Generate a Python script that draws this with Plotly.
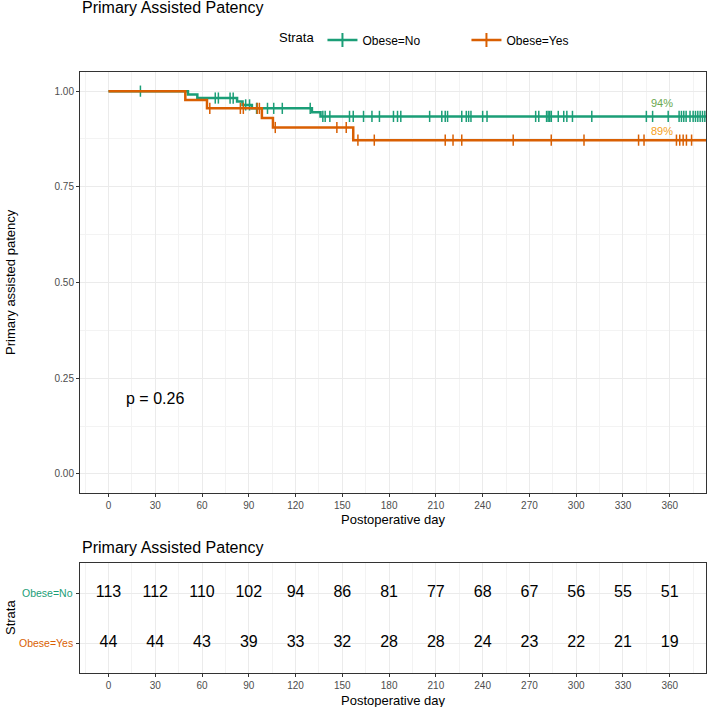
import plotly.graph_objects as go
import numpy as np

# ---------------- data ----------------
no_times = [0, 51, 57, 82.5, 86, 92, 130.5, 136, 400]
no_surv = [1.0, 0.991, 0.982, 0.973, 0.964, 0.955, 0.945, 0.934, 0.934]
no_censor = [20.5, 68.5, 70.5, 78, 80, 88, 90.5, 95, 102, 106, 111.5, 129.4,
             137.5, 139, 142, 154.6, 157, 163.6, 169, 173.8, 182.8, 185.4, 187.5,
             206, 213.8, 216, 217.5, 226.6, 229.5, 231, 232.5, 240, 242.8,
             274, 276, 281, 282, 283, 284, 288.5, 292, 294, 297.6, 310,
             345, 349, 359, 366, 367.5, 369, 370.5, 373, 375, 376.5, 378,
             379.5, 381, 382.5]

yes_times = [0, 49.3, 63.2, 98.4, 105.5, 157, 400]
yes_surv = [1.0, 0.977, 0.955, 0.930, 0.905, 0.872, 0.872]
yes_censor = [65, 84.6, 86.5, 95.4, 96.8, 107, 146.5, 152.5, 160, 170.5,
              216, 221, 226.6, 259.6, 284, 305, 340, 343.5, 364.3, 366.4,
              368.6, 370.7, 374]

risk_times = [0, 30, 60, 90, 120, 150, 180, 210, 240, 270, 300, 330, 360]
risk_no = [113, 112, 110, 102, 94, 86, 81, 77, 68, 67, 56, 55, 51]
risk_yes = [44, 44, 43, 39, 33, 32, 28, 28, 24, 23, 22, 21, 19]

strata = ["Obese=No", "Obese=Yes"]
colors = ["#1B9E77", "#D95F02"]
end_labels = ["94%", "89%"]
end_label_y = [0.969, 0.896]
end_label_colors = ["#6AA84F", "#F5A020"]
pval_text = "p = 0.26"

y_ticks = [0, 0.25, 0.5, 0.75, 1.0]
y_ticktext = ["0.00", "0.25", "0.50", "0.75", "1.00"]


def step_value(times, surv, t):
    idx = np.searchsorted(np.array(times), t, side="right") - 1
    return surv[max(idx, 0)]


fig = go.Figure()

groups = [(no_times, no_surv, no_censor), (yes_times, yes_surv, yes_censor)]
for (tt, ss, cc), name, col in zip(groups, strata, colors):
    fig.add_trace(go.Scatter(x=tt, y=ss, mode="lines", line=dict(color=col, width=2.5, shape="hv"),
                             showlegend=False, xaxis="x", yaxis="y", hoverinfo="skip"))
    fig.add_trace(go.Scatter(x=cc, y=[step_value(tt, ss, c) for c in cc], mode="markers",
                             marker=dict(symbol="line-ns-open", size=8, color=col,
                                         line=dict(color=col, width=1.5)),
                             showlegend=False, xaxis="x", yaxis="y", hoverinfo="skip"))
    fig.add_trace(go.Scatter(x=[None], y=[None], mode="lines+markers", name=name,
                             line=dict(color=col, width=2.5),
                             marker=dict(symbol="cross-thin-open", size=10, color=col,
                                         line=dict(color=col, width=2)),
                             xaxis="x", yaxis="y"))

# risk table
fig.add_trace(go.Scatter(x=risk_times, y=[2] * len(risk_times), mode="text",
                         text=[str(v) for v in risk_no], textfont=dict(size=16, color="black",
                         family="Liberation Sans"), showlegend=False, xaxis="x2", yaxis="y2"))
fig.add_trace(go.Scatter(x=risk_times, y=[1] * len(risk_times), mode="text",
                         text=[str(v) for v in risk_yes], textfont=dict(size=16, color="black",
                         family="Liberation Sans"), showlegend=False, xaxis="x2", yaxis="y2"))

W, H = 708, 707
ml, mr, mt, mb = 80, 2, 72, 34
pw, ph = W - ml - mr, H - mt - mb


def py(pix):
    return (H - mb - pix) / ph


def px(pix):
    return (pix - ml) / pw


axis_common = dict(showline=True, mirror=True, linecolor="#333333", linewidth=1,
                   ticks="outside", ticklen=3, tickcolor="#333333", zeroline=False,
                   tickfont=dict(size=10, color="#4D4D4D"),
                   showgrid=True, gridcolor="#EBEBEB", gridwidth=1)

fig.update_layout(
    width=W, height=H, margin=dict(l=ml, r=mr, t=mt, b=mb),
    paper_bgcolor="white", plot_bgcolor="white",
    font=dict(family="Liberation Sans", color="black"),
    xaxis=dict(domain=[0, 1], range=[-18.25, 383.25], tickmode="linear", tick0=0, dtick=30,
               anchor="y", minor=dict(dtick=15, tick0=-15, showgrid=True, gridcolor="#F3F3F3", ticklen=0),
               **axis_common),
    yaxis=dict(domain=[py(493), 1], range=[-0.05, 1.05], tickvals=y_ticks, ticktext=y_ticktext,
               anchor="x", minor=dict(dtick=0.125, tick0=0.125, showgrid=True, gridcolor="#F3F3F3", ticklen=0),
               **axis_common),
    xaxis2=dict(domain=[0, 1], range=[-18.25, 383.25], tickmode="linear", tick0=0, dtick=30,
                anchor="y2", minor=dict(dtick=15, tick0=-15, showgrid=True, gridcolor="#F3F3F3", ticklen=0),
                **axis_common),
    yaxis2=dict(domain=[0, py(563)], range=[0.4, 2.6], tickvals=[1, 2], ticktext=["", ""],
                anchor="x2", **axis_common),
    legend=dict(orientation="h", x=px(277), y=py(40), xanchor="left", yanchor="middle",
                title=dict(text="Strata", font=dict(size=13)), font=dict(size=12),
                bgcolor="rgba(0,0,0,0)", itemwidth=30, entrywidth=99, entrywidthmode="pixels"),
)

ann = []
ann.append(dict(text="Primary Assisted Patency", xref="paper", yref="paper", x=0, y=py(7),
                xanchor="left", yanchor="middle", showarrow=False, font=dict(size=16)))
ann.append(dict(text="Primary assisted patency", xref="paper", yref="paper", x=px(10), y=py(282),
                xanchor="center", yanchor="middle", textangle=-90, showarrow=False, font=dict(size=13)))
ann.append(dict(text="Postoperative day", xref="paper", yref="paper", x=px(393), y=py(519),
                xanchor="center", yanchor="middle", showarrow=False, font=dict(size=13)))
ann.append(dict(text="Primary Assisted Patency", xref="paper", yref="paper", x=0, y=py(547),
                xanchor="left", yanchor="middle", showarrow=False, font=dict(size=16)))
ann.append(dict(text="Postoperative day", xref="paper", yref="paper", x=px(393), y=py(700),
                xanchor="center", yanchor="middle", showarrow=False, font=dict(size=13)))
ann.append(dict(text="Strata", xref="paper", yref="paper", x=px(10), y=py(618),
                xanchor="center", yanchor="middle", textangle=-90, showarrow=False, font=dict(size=13)))
for name, col, yv in zip(strata, colors, [2, 1]):
    ann.append(dict(text=name, xref="paper", yref="y2", x=px(75), y=yv, xanchor="right",
                    yanchor="middle", showarrow=False, font=dict(size=10.5, color=col)))
for lab, yv, col in zip(end_labels, end_label_y, end_label_colors):
    ann.append(dict(text=lab, xref="x", yref="y", x=355, y=yv, xanchor="center", yanchor="middle",
                    showarrow=False, font=dict(size=11, color=col)))
ann.append(dict(text=pval_text, xref="x", yref="y", x=30, y=0.196, xanchor="center", yanchor="middle",
                showarrow=False, font=dict(size=16)))
fig.update_layout(annotations=ann)

fig.write_html("out.html")
